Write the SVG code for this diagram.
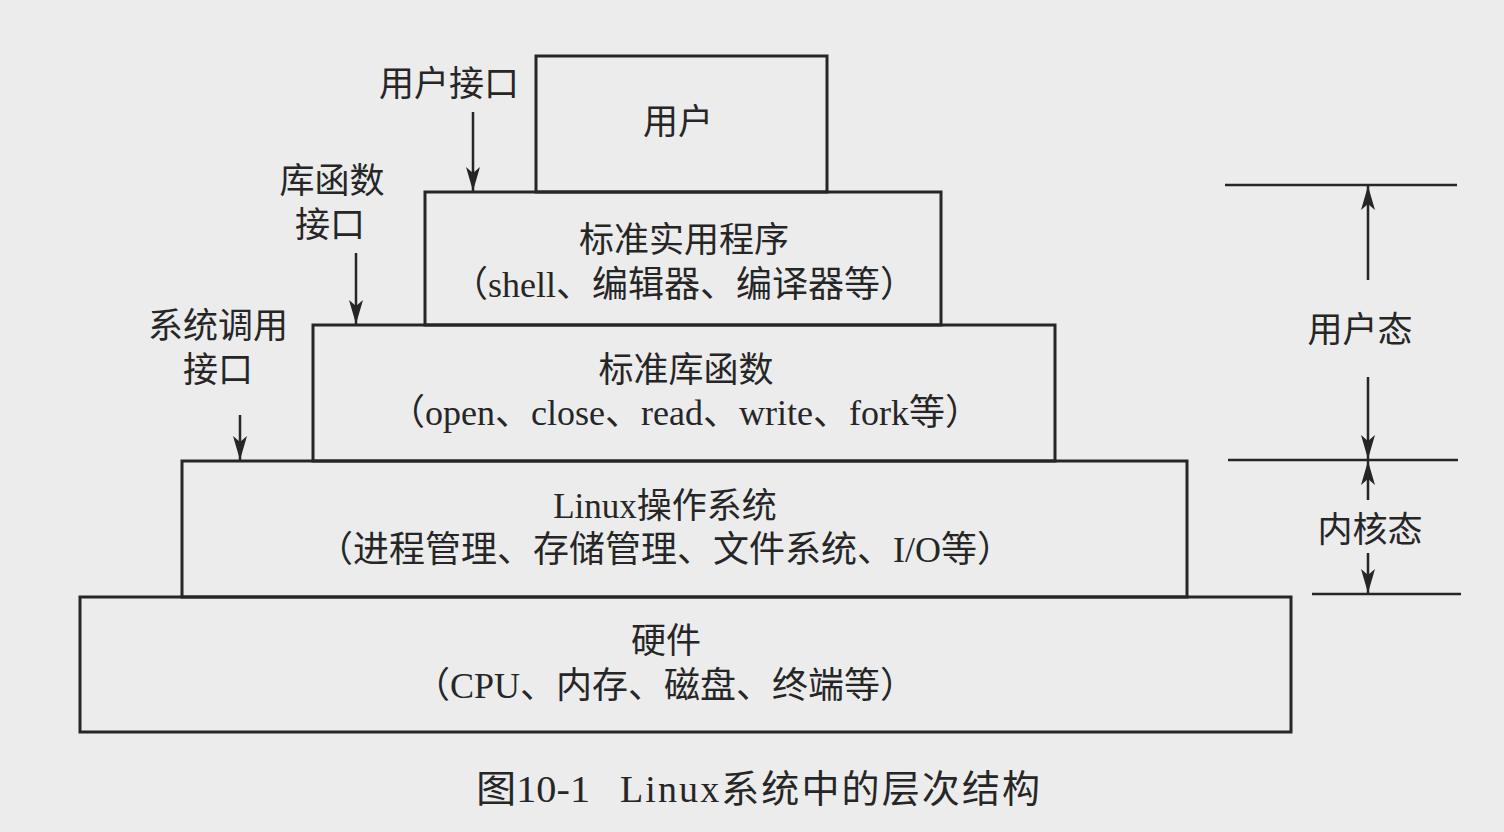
<svg xmlns="http://www.w3.org/2000/svg" width="1504" height="832" viewBox="0 0 1504 832">
<style>
.bg{fill:#ececec}
.box{fill:none;stroke:#262626;stroke-width:3}
.ln{stroke:#262626;stroke-width:2.5;fill:none}
.t{font-family:"Liberation Serif","Noto Sans CJK SC",serif;font-size:35px;fill:#262626;text-anchor:middle}
.s{font-size:36px}
.c{font-family:"Liberation Serif","Noto Sans CJK SC",serif;font-size:38px;fill:#262626}
</style>
<defs>
<marker id="a" viewBox="0 0 24 14" refX="24" refY="7" markerWidth="24" markerHeight="14" orient="auto" markerUnits="userSpaceOnUse">
<path d="M0,0 L24,7 L0,14 L6,7 z" fill="#262626"/>
</marker>
</defs>
<rect class="bg" x="0" y="0" width="1504" height="832"/>
<g id="node-user"><rect class="box" x="536" y="56" width="291" height="136"/><text class="t" x="678" y="134">用户</text></g>
<g id="node-utils"><rect class="box" x="425" y="192" width="516" height="133"/><text class="t" x="684" y="252">标准实用程序</text><text class="t s" x="684" y="297">（shell、编辑器、编译器等）</text></g>
<g id="node-lib"><rect class="box" x="313" y="325" width="742" height="136"/><text class="t" x="686" y="382">标准库函数</text><text class="t s" x="685" y="425">（open、close、read、write、fork等）</text></g>
<g id="node-os"><rect class="box" x="182" y="461" width="1005" height="136"/><text class="t" x="665" y="518">Linux操作系统</text><text class="t s" x="665" y="562">（进程管理、存储管理、文件系统、I/O等）</text></g>
<g id="node-hw"><rect class="box" x="80" y="597" width="1211" height="135"/><text class="t" x="666" y="653">硬件</text><text class="t s" x="665" y="698">（CPU、内存、磁盘、终端等）</text></g>
<g id="labels">
<text class="t" x="449" y="96">用户接口</text>
<text class="t" x="332" y="193">库函数</text>
<text class="t" x="330" y="237">接口</text>
<text class="t" x="218" y="338">系统调用</text>
<text class="t" x="218" y="382">接口</text>
<text class="t" x="1360" y="342">用户态</text>
<text class="t" x="1370" y="542">内核态</text>
<text class="c" x="476" y="802" textLength="114" lengthAdjust="spacingAndGlyphs">图10-1</text>
<text class="c" x="620" y="802" textLength="420" lengthAdjust="spacing">Linux系统中的层次结构</text>
</g>
<g id="connectors">
<line class="ln" x1="473" y1="112" x2="473" y2="191" marker-end="url(#a)"/>
<line class="ln" x1="356" y1="253" x2="356" y2="324" marker-end="url(#a)"/>
<line class="ln" x1="240" y1="415" x2="240" y2="460" marker-end="url(#a)"/>
<line class="ln" x1="1225" y1="185" x2="1457" y2="185"/>
<line class="ln" x1="1228" y1="460" x2="1458" y2="460"/>
<line class="ln" x1="1312" y1="594" x2="1461" y2="594"/>
<line class="ln" x1="1368" y1="280" x2="1368" y2="186" marker-end="url(#a)"/>
<line class="ln" x1="1368" y1="377" x2="1368" y2="459" marker-end="url(#a)"/>
<line class="ln" x1="1368" y1="500" x2="1368" y2="461" marker-end="url(#a)"/>
<line class="ln" x1="1368" y1="553" x2="1368" y2="593" marker-end="url(#a)"/>
</g>
</svg>
